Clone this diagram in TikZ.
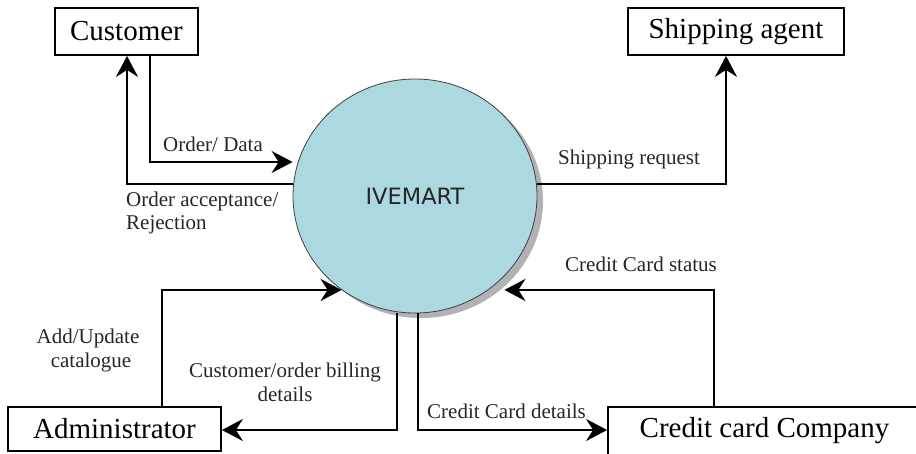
\documentclass[tikz,border=0pt]{standalone}
\usepackage{fontspec}
\setmainfont{Liberation Serif}
\newfontfamily\ivfont{DejaVu Sans}
\usetikzlibrary{arrows.meta,shadows,shapes.geometric}
\definecolor{bubble}{RGB}{172,217,224}
\definecolor{shade}{RGB}{178,178,178}
\begin{document}
\begin{tikzpicture}[x=1pt,y=-1pt,
  ent/.style={draw, line width=1.8pt, inner sep=0pt, font=\fontsize{29}{29}\selectfont},
  flow/.style={line width=2pt, -{Stealth[length=21pt,width=22pt,inset=7pt]}},
  lbl/.style={font=\fontsize{21}{24}\selectfont, inner sep=0pt, text=black!85}]
\useasboundingbox (0,0) rectangle (916,453);
\clip (0,0) rectangle (916,453);

% entities
\node[ent, minimum width=143pt, minimum height=47pt] (cust) at (126.5,31.5) {Customer};
\node[ent, minimum width=216pt, minimum height=47pt] (ship) at (736,31.5) {Shipping agent};
\node[ent, minimum width=213pt, minimum height=44pt] (admin) at (114.5,429) {Administrator};
\node[ent, minimum width=313pt, minimum height=48pt] (ccc) at (764.5,431) {Credit card Company};

% process
\node[ellipse, draw=black!75, fill=bubble, line width=0.8pt, inner sep=0pt,
      minimum width=244pt, minimum height=234pt,
      drop shadow={shadow xshift=6pt, shadow yshift=-5pt, fill=shade, opacity=1},
      font=\ivfont\fontsize{22.5}{24}\selectfont, text=black!85] (ive) at (415,196) {IVEMART};

% bend coordinates
\coordinate (c1) at (150,162);
\coordinate (c2) at (127,184);
\coordinate (c3) at (726,184);
\coordinate (c4) at (162,290);
\coordinate (c5) at (714,290);
\coordinate (c6) at (397,430);
\coordinate (c7) at (418,430);

% flows
\draw[flow] (cust.south -| c1) |- (ive.west |- c1);
\draw[flow] (ive.west |- c2) -| (cust.south -| c2);
\draw[flow] (ive.east |- c3) -| (ship.south -| c3);
\draw[flow] (admin.north -| c4) |- (ive.232);
\draw[flow] (ccc.north -| c5) |- ([xshift=16pt]ive.308);
\draw[flow] (ive.south -| c6) |- (admin.east |- c6);
\draw[flow] (ive.south -| c7) |- (ccc.west |- c7);

% labels
\node[lbl, anchor=base west] (t1) at (163,151) {Order/ Data};
\node[lbl, anchor=base west] (t2) at (126,206) {Order acceptance/};
\node[lbl, anchor=base west] (t3) at (126,229) {Rejection};
\node[lbl, anchor=base west] (t4) at (558,164) {Shipping request};
\node[lbl, anchor=base west] (t5) at (565,271) {Credit Card status};
\node[lbl, anchor=base] (t6) at (88,343) {Add/Update};
\node[lbl, anchor=base] (t7) at (91,367) {catalogue};
\node[lbl, anchor=base] (t8) at (285,377) {Customer/order billing};
\node[lbl, anchor=base] (t9) at (285,401) {details};
\node[lbl, anchor=base west] (t10) at (427,418) {Credit Card details};
\end{tikzpicture}
\end{document}
